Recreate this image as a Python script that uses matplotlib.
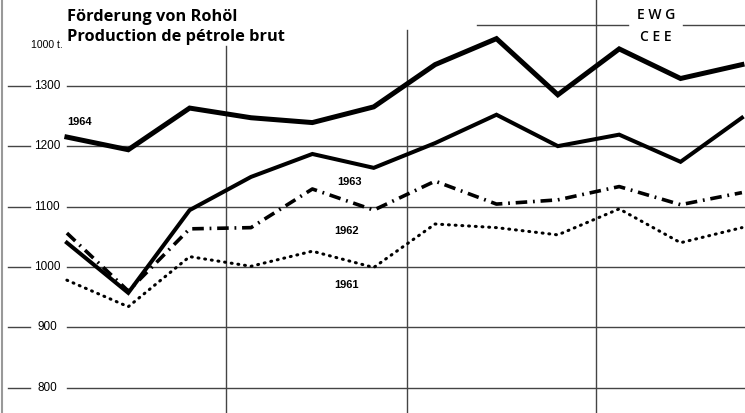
import numpy as np
import matplotlib.pyplot as plt
from matplotlib import transforms

# Monthly crude oil production, EEC (1000 t)
months = np.arange(1, 13)
prod_1964 = [1215, 1194, 1263, 1247, 1239, 1265, 1335, 1378, 1285, 1361, 1312, 1335]
prod_1963 = [1040, 957, 1094, 1149, 1187, 1164, 1205, 1252, 1200, 1219, 1174, 1247]
prod_1962 = [1056, 960, 1063, 1065, 1129, 1094, 1142, 1104, 1111, 1133, 1103, 1123]
prod_1961 = [978, 934, 1017, 1001, 1026, 999, 1071, 1065, 1053, 1096, 1040, 1065]
y_ticks = [800, 900, 1000, 1100, 1200, 1300]
year_labels = ['1964', '1963', '1962', '1961']

fig = plt.figure(figsize=(7.45, 4.13), dpi=100)
ax = fig.add_axes([0, 0, 1, 1])
ax.set_xlim(-0.09, 12.05)
ax.set_ylim(758, 1442)
ax.axis('off')

narrow = ['Liberation Sans Narrow', 'Liberation Sans', 'DejaVu Sans']
grid_c = '#444444'

# horizontal grid lines, interrupted by the labels
for v in y_ticks:
    ax.axhline(v, xmin=0.09, xmax=1, color=grid_c, lw=1.0)
    ax.axhline(v, xmin=0.011, xmax=0.040, color=grid_c, lw=1.0)
    ax.text(0.063, v, str(v), transform=ax.get_yaxis_transform(),
            ha='center', va='center', fontsize=8.5, family=narrow)
ax.axhline(1400, xmin=0.640, xmax=0.843, color=grid_c, lw=1.0)
ax.axhline(1400, xmin=0.917, xmax=1, color=grid_c, lw=1.0)

# quarter separators
ax.plot([3.59, 3.59], [758, 1365], color=grid_c, lw=1.0)
ax.plot([6.55, 6.55], [758, 1393], color=grid_c, lw=1.0)
ax.plot([9.62, 9.62], [758, 1442], color=grid_c, lw=1.0)
ax.axvline(-0.06, color='#999999', lw=1.5)

# the four years
ax.plot(months, prod_1964, color='black', lw=3.6, solid_joinstyle='miter')
ax.plot(months, prod_1963, color='black', lw=2.9, solid_joinstyle='miter')
ax.plot(months, prod_1962, color='black', lw=2.6, linestyle=(0, (3.2, 1.6, 0.5, 1.6)))
ax.plot(months, prod_1961, color='black', lw=2.2, linestyle=(0, (0.3, 1.9)),
        dash_capstyle='round')

# year labels
lab = dict(fontsize=8, fontweight='bold', family=narrow, va='center')
ax.text(1.0, 1240, year_labels[0], ha='left', **lab)
ax.text(5.6, 1141, year_labels[1], ha='center', **lab)
ax.text(5.56, 1059, year_labels[2], ha='center', **lab)
ax.text(5.56, 970, year_labels[3], ha='center', **lab)

# titles
ax.text(1.0, 1414, 'Förderung von Rohöl', fontsize=11.8, fontweight='bold',
        family='Open Sans', ha='left', va='center')
ax.text(1.0, 1381, 'Production de pétrole brut', fontsize=11.8, fontweight='bold',
        family='Open Sans', ha='left', va='center')
ax.text(0.0, 1367, '1000 t.', fontsize=7.5, family=narrow, ha='center', va='center',
        transform=ax.get_yaxis_transform() + transforms.ScaledTranslation(0.47, 0, fig.dpi_scale_trans))
ax.text(10.6, 1417, 'E W G', fontsize=10, family='Open Sans', fontweight='semibold',
        ha='center', va='center')
ax.text(10.6, 1381, 'C E E', fontsize=10, family='Open Sans', fontweight='semibold',
        ha='center', va='center')

fig.savefig('out.png', dpi=100, facecolor='white')
